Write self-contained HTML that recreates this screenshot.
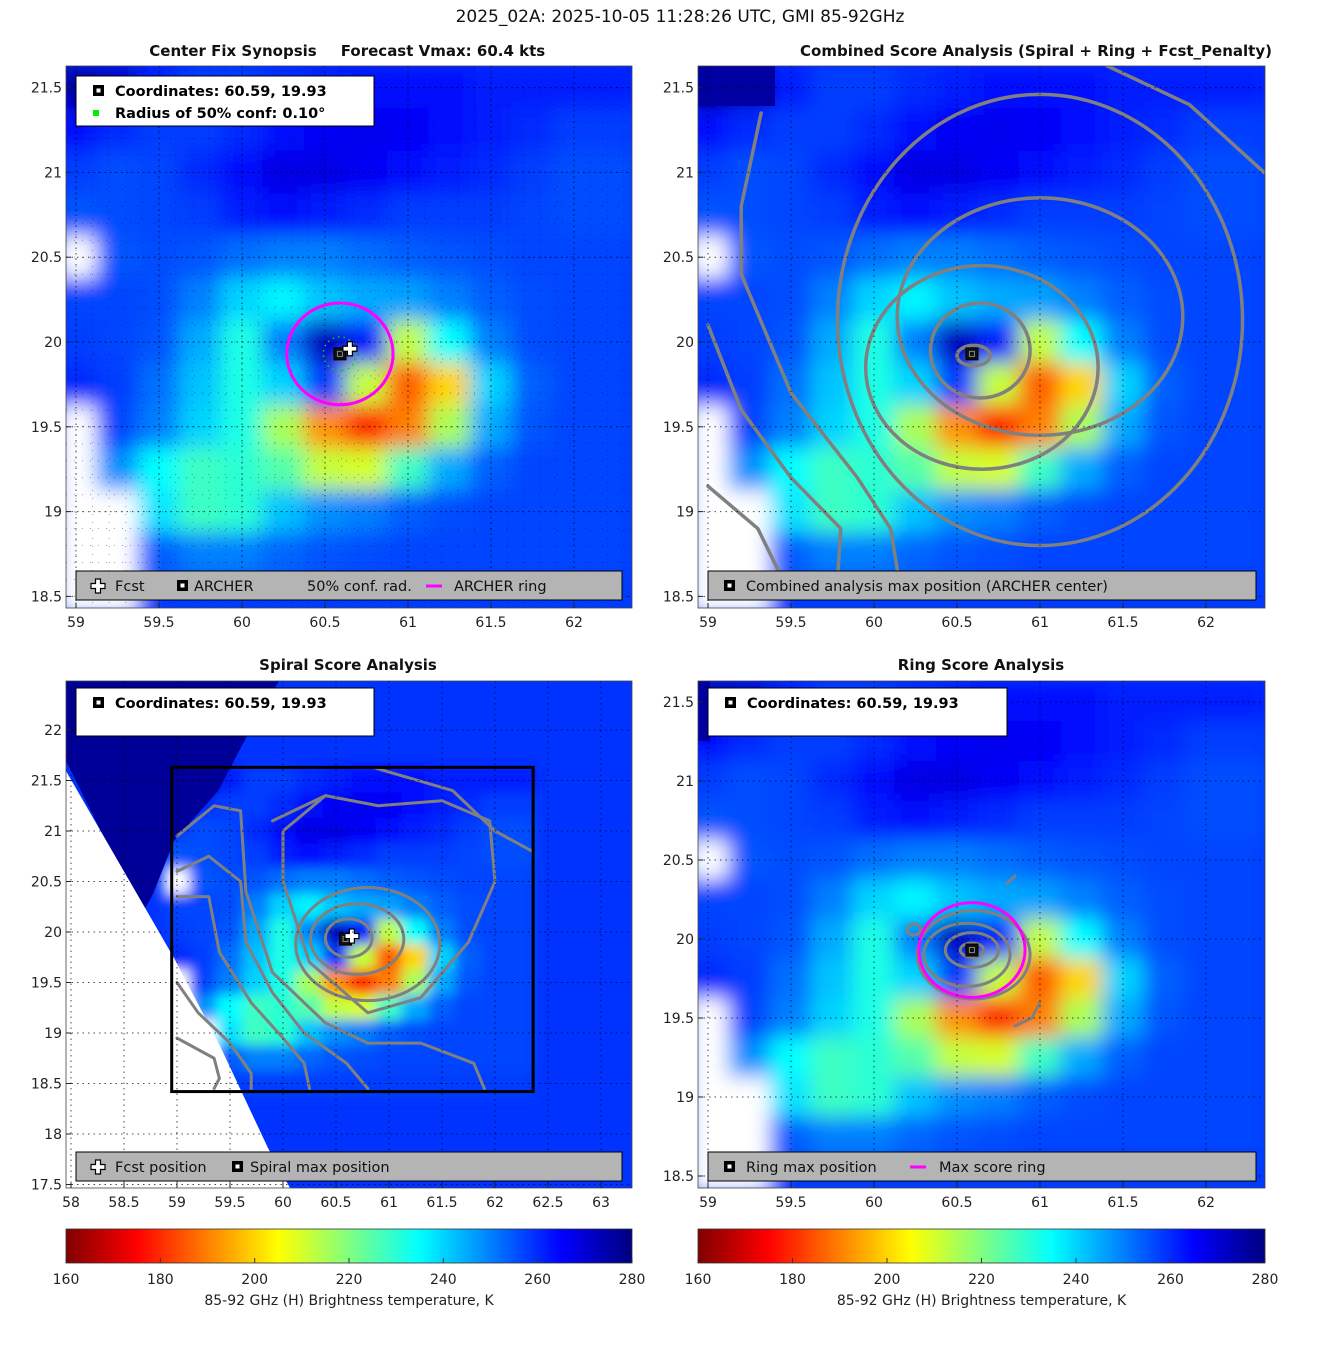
<!DOCTYPE html>
<html><head><meta charset="utf-8"><style>
html,body{margin:0;padding:0;background:#fff}
svg{display:block;font-family:"DejaVu Sans","Liberation Sans",sans-serif}
</style></head><body>
<svg id="root" width="1317" height="1350" viewBox="0 0 1317 1350" xmlns="http://www.w3.org/2000/svg">
<defs>
<filter id="blurA" filterUnits="userSpaceOnUse" x="0" y="0" width="1317" height="1350"><feGaussianBlur stdDeviation="10"/></filter>
<filter id="blurB" filterUnits="userSpaceOnUse" x="0" y="0" width="1317" height="1350"><feGaussianBlur stdDeviation="6"/></filter>
<linearGradient id="jetGrad" x1="0" x2="1" y1="0" y2="0"></linearGradient>
</defs>
<text x="680" y="22" text-anchor="middle" font-size="17" fill="#111">2025_02A: 2025-10-05 11:28:26 UTC, GMI 85-92GHz</text>
</svg>
<script>
// ---- brightness temperature grid (K), rows north->south, cols west->east ----
const gridLons = [59.0,59.25,59.5,59.75,60.0,60.25,60.5,60.75,61.0,61.25,61.5,61.75,62.0,62.25];
const gridLats = [21.5,21.25,21.0,20.75,20.5,20.25,20.0,19.75,19.5,19.25,19.0,18.75,18.5];
const tbRow0  = [276,272,262,258,258,260,262,264,264,263,262,262,262,262];
const tbRow1  = [264,260,258,258,260,263,266,267,266,264,262,260,258,258];
const tbRow2  = [258,256,257,260,264,268,268,266,264,262,260,258,256,256];
const tbRow3  = [255,256,257,258,262,264,262,260,258,258,258,257,256,256];
const tbRow4  = [null,255,256,255,252,250,250,252,254,255,256,257,257,257];
const tbRow5  = [257,257,256,250,240,236,242,245,246,250,254,256,257,257];
const tbRow6  = [258,257,255,245,232,250,272,262,212,235,250,256,257,257];
const tbRow7  = [260,258,252,242,232,240,258,212,186,200,240,254,257,257];
const tbRow8  = [null,257,250,240,232,215,192,180,190,215,245,255,257,257];
const tbRow9  = [null,248,235,228,230,225,212,210,228,245,254,257,257,257];
const tbRow10 = [null,null,238,228,230,242,248,250,254,256,257,257,257,257];
const tbRow11 = [null,null,254,250,250,253,255,256,257,257,257,257,257,257];
const tbRow12 = [null,null,258,258,258,258,258,258,258,258,258,258,258,258];
const tbRows = [tbRow0,tbRow1,tbRow2,tbRow3,tbRow4,tbRow5,tbRow6,tbRow7,tbRow8,tbRow9,tbRow10,tbRow11,tbRow12];
const cellDeg = 0.25;

// ---- centers / rings ----
const archerCenter = [60.59, 19.93];
const fcstPos = [60.65, 19.96];
const ringRadiusDeg = [0.32, 0.30];
const confRadiusDeg = 0.10;

// ---- contour ellipses [lon, lat, rxDeg, ryDeg] ----
const combinedEllipses = [[60.6,19.92,0.1,0.06],[60.64,19.95,0.3,0.28],[60.65,19.85,0.7,0.6],[61.0,20.15,0.86,0.7],[61.0,20.13,1.22,1.33]];
const combinedLine1 = [[59.0,20.1],[59.2,19.6],[59.5,19.2],[59.8,18.9],[59.78,18.6]];
const combinedLine2 = [[59.32,21.35],[59.2,20.8],[59.2,20.4],[59.5,19.7],[59.9,19.2],[60.1,18.9],[60.15,18.6]];
const combinedLine3 = [[61.4,21.63],[61.9,21.4],[62.35,21.0]];
const combinedLine4 = [[59.0,19.15],[59.3,18.9],[59.45,18.6]];
const spiralEllipses = [[60.62,19.94,0.22,0.19],[60.7,19.93,0.44,0.35],[60.8,19.88,0.68,0.56]];
const spiralLine1 = [[59.9,21.1],[60.4,21.35],[60.9,21.25],[61.5,21.3],[61.95,21.1],[62.0,20.5],[61.75,19.9],[61.3,19.35],[60.8,19.2],[60.25,19.7],[60.0,20.5],[60.0,21.0],[60.4,21.35]];
const spiralLine2 = [[59.0,20.95],[59.35,21.25],[59.6,21.2],[59.65,20.4],[59.9,19.6],[60.4,19.1],[60.8,18.9],[61.3,18.9],[61.8,18.7],[61.9,18.45]];
const spiralLine3 = [[59.0,20.6],[59.3,20.75],[59.6,20.5],[59.65,19.9],[59.9,19.4],[60.2,19.0],[60.6,18.7],[60.8,18.45]];
const spiralLine4 = [[59.0,20.35],[59.3,20.35],[59.4,19.8],[59.7,19.3],[60.0,18.95],[60.2,18.7],[60.25,18.45]];
const spiralLine5 = [[59.0,19.5],[59.2,19.2],[59.5,18.9],[59.7,18.6],[59.7,18.45]];
const spiralLine6 = [[59.0,18.95],[59.35,18.75],[59.4,18.55],[59.35,18.45]];
const spiralLine7 = [[60.85,21.63],[61.6,21.4],[62.0,21.0],[62.35,20.8]];
const ringEllipses = [[60.59,19.93,0.07,0.045],[60.59,19.93,0.16,0.11],[60.56,19.9,0.26,0.2],[60.6,19.9,0.34,0.28],[60.24,20.06,0.04,0.035]];
const ringLine1 = [[60.8,20.35],[60.85,20.4]];
const ringLine2 = [[61.0,19.6],[60.95,19.5],[60.85,19.45]];

// ---- axis ticks ----
const lonTicksA = [59,59.5,60,60.5,61,61.5,62];
const latTicksA = [21.5,21,20.5,20,19.5,19,18.5];
const lonTicksC = [58,58.5,59,59.5,60,60.5,61,61.5,62,62.5,63];
const latTicksC = [22,21.5,21,20.5,20,19.5,19,18.5,18,17.5];
const latTicksD = [21.5,21,20.5,20,19.5,19,18.5];
const cbarTicks = [160,180,200,220,240,260,280];
</script>
<script>
const NS="http://www.w3.org/2000/svg";
const root=document.getElementById('root');
function mk(tag,attrs,parent){const e=document.createElementNS(NS,tag);for(const k in attrs)e.setAttribute(k,attrs[k]);(parent||root).appendChild(e);return e;}
function cl(v){return Math.max(0,Math.min(1,v));}
function jet(T){const t=cl((280-T)/120);const r=cl(1.5-Math.abs(4*t-3)),g=cl(1.5-Math.abs(4*t-2)),b=cl(1.5-Math.abs(4*t-1));return `rgb(${Math.round(r*255)},${Math.round(g*255)},${Math.round(b*255)})`;}

const panels=[
 {id:'synopsis',x0:66,y0:66,w:566,h:542,lonRef:59,xRef:76,pxLon:166,latRef:20,yRef:342,pxLat:169.6,lonT:lonTicksA,latT:latTicksA,blur:'blurA'},
 {id:'combined',x0:698,y0:66,w:567,h:542,lonRef:59,xRef:708,pxLon:166,latRef:20,yRef:342,pxLat:169.6,lonT:lonTicksA,latT:latTicksA,blur:'blurA'},
 {id:'spiral',x0:66,y0:681,w:566,h:507,lonRef:58,xRef:71,pxLon:106,latRef:22,yRef:730,pxLat:101,lonT:lonTicksC,latT:latTicksC,blur:'blurB'},
 {id:'ring',x0:698,y0:681,w:567,h:507,lonRef:59,xRef:708,pxLon:166,latRef:21.5,yRef:702,pxLat:158,lonT:lonTicksA,latT:latTicksD,blur:'blurA'}
];
function X(p,lon){return p.xRef+(lon-p.lonRef)*p.pxLon;}
function Y(p,lat){return p.yRef-(lat-p.latRef)*p.pxLat;}

const defs=root.querySelector('defs');
panels.forEach(p=>{const c=mk('clipPath',{id:'clip-'+p.id},defs);mk('rect',{x:p.x0,y:p.y0,width:p.w,height:p.h},c);});

function drawField(p){
 const g=mk('g',{'clip-path':`url(#clip-${p.id})`});
 
 
 mk('rect',{x:p.x0,y:p.y0,width:p.w,height:p.h,fill:jet(259)},g);
 const fg=mk('g',{filter:`url(#${p.blur})`},g);
 tbRows.forEach((row,i)=>{row.forEach((v,j)=>{
   const lon=gridLons[j],lat=gridLats[i];
   const x1=X(p,lon-cellDeg/2),x2=X(p,lon+cellDeg/2),y1=Y(p,lat+cellDeg/2),y2=Y(p,lat-cellDeg/2);
   const r=mk('rect',{x:x1-0.5,y:y1-0.5,width:x2-x1+1,height:y2-y1+1,fill:v==null?'#fff':jet(v)},fg);
   
   
 });});
 return g;
}
function ellipse(p,e,parent,color,w){return mk('ellipse',{cx:X(p,e[0]),cy:Y(p,e[1]),rx:e[2]*p.pxLon,ry:e[3]*p.pxLat,fill:'none',stroke:color,'stroke-width':w},parent);}
function polyline(p,pts,parent,color,w){return mk('polyline',{points:pts.map(q=>X(p,q[0])+','+Y(p,q[1])).join(' '),fill:'none',stroke:color,'stroke-width':w,'stroke-linejoin':'round','stroke-linecap':'round'},parent);}
function axes(p,dense){
 const g=mk('g',{});
 
 
 const gl=mk('g',{'clip-path':`url(#clip-${p.id})`,stroke:'#000','stroke-width':1,'stroke-dasharray':'1.5,4',opacity:0.7},g);
 p.lonT.forEach(t=>mk('line',{x1:X(p,t),x2:X(p,t),y1:p.y0,y2:p.y0+p.h},gl));
 p.latT.forEach(t=>mk('line',{y1:Y(p,t),y2:Y(p,t),x1:p.x0,x2:p.x0+p.w},gl));
 if(dense){const gd=mk('g',{'clip-path':`url(#clip-${p.id})`,stroke:'#000','stroke-width':1,'stroke-dasharray':'1,7',opacity:0.35},g);
  for(let l=59;l<62.4;l+=0.1)mk('line',{x1:X(p,l),x2:X(p,l),y1:p.y0,y2:p.y0+p.h},gd);
  for(let l=18.5;l<21.7;l+=0.1)mk('line',{y1:Y(p,l),y2:Y(p,l),x1:p.x0,x2:p.x0+p.w},gd);}
 mk('rect',{x:p.x0,y:p.y0,width:p.w,height:p.h,fill:'none',stroke:'#444','stroke-width':0.8},g);
 p.lonT.forEach(t=>{const x=X(p,t);mk('line',{x1:x,x2:x,y1:p.y0+p.h,y2:p.y0+p.h-5,stroke:'#222'},g);
   const tx=mk('text',{x:x,y:p.y0+p.h+19,'text-anchor':'middle','font-size':14,fill:'#222'},g);tx.textContent=String(t);
   });
 p.latT.forEach(t=>{const y=Y(p,t);mk('line',{x1:p.x0,x2:p.x0+5,y1:y,y2:y,stroke:'#222'},g);
   const tx=mk('text',{x:p.x0-4,y:y+5,'text-anchor':'end','font-size':14,fill:'#222'},g);tx.textContent=String(t);
   });
}
function archerMark(p,parent){const x=X(p,archerCenter[0]),y=Y(p,archerCenter[1]);
 const g=mk('g',{},parent);
 mk('rect',{x:x-6,y:y-6,width:12,height:12,fill:'#111',stroke:'#000'},g);mk('rect',{x:x-2.5,y:y-2.5,width:5,height:5,fill:'none',stroke:'#888','stroke-width':1},g);}
function fcstMark(p,parent,cx,cy){const x=cx!=null?cx:X(p,fcstPos[0]),y=cy!=null?cy:Y(p,fcstPos[1]);
 const g=mk('g',{},parent);
 mk('path',{d:`M${x-2.5},${y-7}h5v4.5h4.5v5h-4.5v4.5h-5v-4.5h-4.5v-5h4.5z`,fill:'#fff',stroke:'#000','stroke-width':1.2},g);}
function title(x,y,s,name){const t=mk('text',{x:x,y:y,'text-anchor':'middle','font-size':15,'font-weight':'bold',fill:'#111'});t.textContent=s;
 }
function infoBox(x,y,w,h,lines,name){const g=mk('g',{});
 mk('rect',{x:x,y:y,width:w,height:h,fill:'#fff',stroke:'#000','stroke-width':1},g);
 lines.forEach((l,i)=>{const yy=y+20+i*22;
   if(l.m==='sq'){mk('rect',{x:x+17,y:yy-11,width:11,height:11,fill:'#000'},g);mk('rect',{x:x+20.5,y:yy-7.5,width:4,height:4,fill:'#fff'},g);}
   else{mk('rect',{x:x+17,y:yy-8,width:6,height:6,fill:'#00ee00'},g);}
   const t=mk('text',{x:x+39,y:yy,'font-size':14.5,'font-weight':'bold',fill:'#000'},g);t.textContent=l.t;});}
function legendBar(x,y,w,items,name){const g=mk('g',{});
 mk('rect',{x:x,y:y,width:w,height:29,fill:'#b4b4b4',stroke:'#000','stroke-width':1},g);
 items.forEach(it=>{const cy=y+15;
  if(it.m==='plus'){fcstMark(null,g,it.x+8,cy);}
  else if(it.m==='sq'){mk('rect',{x:it.x+2,y:cy-6,width:11,height:11,fill:'#000'},g);mk('rect',{x:it.x+5.5,y:cy-2.5,width:4,height:4,fill:'#fff'},g);}
  else if(it.m==='mag'){mk('line',{x1:it.x,x2:it.x+16,y1:cy,y2:cy,stroke:'#ff00ff','stroke-width':3},g);}
  const t=mk('text',{x:it.x+it.dx,y:cy+5,'font-size':14.5,fill:'#111'},g);t.textContent=it.t;});}

// ===== Panel 1 =====
let p=panels[0];
drawField(p);axes(p,true);
title(233,56,'Center Fix Synopsis','synopsis-title');title(443,56,'Forecast Vmax: 60.4 kts','vmax-title');
{const g=mk('g',{'clip-path':'url(#clip-synopsis)'});
 const c=mk('ellipse',{cx:X(p,archerCenter[0]),cy:Y(p,archerCenter[1]),rx:confRadiusDeg*p.pxLon,ry:confRadiusDeg*p.pxLat,fill:'none',stroke:'#00dd00','stroke-width':1.5,'stroke-dasharray':'1.5,4'},g);
 
 const r=mk('ellipse',{cx:X(p,archerCenter[0]),cy:Y(p,archerCenter[1]),rx:ringRadiusDeg[0]*p.pxLon,ry:ringRadiusDeg[1]*p.pxLat,fill:'none',stroke:'#ff00ff','stroke-width':3},g);
 
 archerMark(p,g);fcstMark(p,g);}
infoBox(76,76,298,50,[{m:'sq',t:'Coordinates: 60.59, 19.93'},{m:'gr',t:'Radius of 50% conf: 0.10°'}],'synopsis-info-box');
legendBar(76,571,546,[{m:'plus',x:90,dx:25,t:'Fcst'},{m:'sq',x:175,dx:19,t:'ARCHER'},{m:'none',x:290,dx:17,t:'50% conf. rad.'},{m:'mag',x:426,dx:28,t:'ARCHER ring'}],'synopsis-legend');

// ===== Panel 2 =====
p=panels[1];
drawField(p);
{const g=mk('g',{'clip-path':'url(#clip-combined)'});
 mk('rect',{x:698,y:66,width:77,height:40,fill:jet(276)},g);
 combinedEllipses.forEach(e=>{const el=ellipse(p,e,g,'#808080',3.5);});
 [combinedLine1,combinedLine2,combinedLine3,combinedLine4].forEach(l=>{const el=polyline(p,l,g,'#808080',3.5);});
 archerMark(p,g);}
axes(p,false);
title(1036,56,'Combined Score Analysis (Spiral + Ring + Fcst_Penalty)','combined-title');
legendBar(708,571,548,[{m:'sq',x:722,dx:24,t:'Combined analysis max position (ARCHER center)'}],'combined-legend');

// ===== Panel 3 =====
p=panels[2];
{const g=drawField(p);
 const nv=mk('polygon',{points:'66,681 279,681 246,738 218,791 174,841 153,894 142,914 66,761',fill:jet(277)},g);
 
 const wt=mk('polygon',{points:'66,771 174,958 221,1048 268,1148 290,1188 66,1188',fill:'#fff'},g);
 
 const cg=mk('g',{},g);
 spiralEllipses.forEach(e=>{const el=ellipse(p,e,cg,'#808080',3);});
 [spiralLine1,spiralLine2,spiralLine3,spiralLine4,spiralLine5,spiralLine6,spiralLine7].forEach(l=>{const el=polyline(p,l,cg,'#808080',3);});
 const bx=mk('rect',{x:X(p,58.95),y:Y(p,21.63),width:X(p,62.36)-X(p,58.95),height:Y(p,18.42)-Y(p,21.63),fill:'none',stroke:'#000','stroke-width':3},g);
 
 archerMark(p,g);fcstMark(p,g);}
axes(p,false);
title(348,670,'Spiral Score Analysis','spiral-title');
infoBox(76,688,298,48,[{m:'sq',t:'Coordinates: 60.59, 19.93'}],'spiral-info-box');
legendBar(76,1152,546,[{m:'plus',x:90,dx:25,t:'Fcst position'},{m:'sq',x:230,dx:20,t:'Spiral max position'}],'spiral-legend');

// ===== Panel 4 =====
p=panels[3];
drawField(p);
{const g=mk('g',{'clip-path':'url(#clip-ring)'});
 mk('rect',{x:698,y:681,width:12,height:60,fill:jet(276)},g);
 ringEllipses.forEach(e=>{const el=ellipse(p,e,g,'#808080',3);});
 [ringLine1,ringLine2].forEach(l=>{const el=polyline(p,l,g,'#808080',3);});
 const r=mk('ellipse',{cx:X(p,archerCenter[0]),cy:Y(p,archerCenter[1]),rx:ringRadiusDeg[0]*p.pxLon,ry:ringRadiusDeg[1]*p.pxLat,fill:'none',stroke:'#ff00ff','stroke-width':3},g);
 
 archerMark(p,g);}
axes(p,false);
title(981,670,'Ring Score Analysis','ring-title');
infoBox(708,688,299,48,[{m:'sq',t:'Coordinates: 60.59, 19.93'}],'ring-info-box');
legendBar(708,1152,548,[{m:'sq',x:722,dx:24,t:'Ring max position'},{m:'mag',x:910,dx:29,t:'Max score ring'}],'ring-legend');

// ===== Colorbars =====
const grad=document.getElementById('jetGrad');
for(let T=160;T<=280;T+=5){mk('stop',{offset:((T-160)/120),'stop-color':jet(T)},grad);}
[[66,632,'colorbar-left'],[698,1265,'colorbar-right']].forEach(([a,b,n])=>{
 const g=mk('g',{});
 mk('rect',{x:a,y:1229,width:b-a,height:34,fill:'url(#jetGrad)',stroke:'#333','stroke-width':0.8},g);
 cbarTicks.forEach(t=>{const x=a+(t-160)/120*(b-a);mk('line',{x1:x,x2:x,y1:1263,y2:1258,stroke:'#333'},g);
  const tx=mk('text',{x:x,y:1284,'text-anchor':'middle','font-size':14,fill:'#222'},g);tx.textContent=String(t);});
 const lb=mk('text',{x:(a+b)/2,y:1305,'text-anchor':'middle','font-size':14,fill:'#222'},g);lb.textContent='85-92 GHz (H) Brightness temperature, K';
 
});
</script>
</body></html>
